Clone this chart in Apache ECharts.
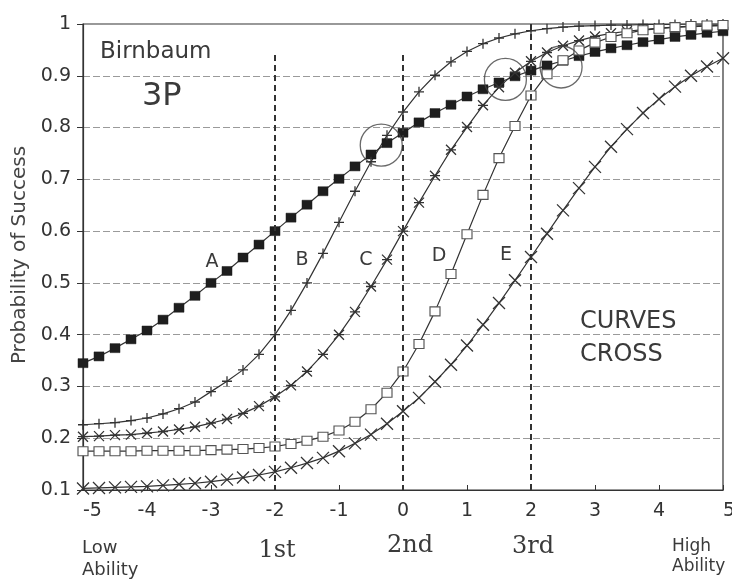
<!DOCTYPE html>
<html>
<head>
<meta charset="utf-8">
<script src="https://cdn.jsdelivr.net/npm/echarts@6/dist/echarts.min.js"></script>
<style>
  html, body { margin: 0; padding: 0; background: #ffffff; }
  #chart { width: 732px; height: 579px; }
</style>
</head>
<body>
<div id="chart"></div>
<script>
// Ability scale (theta) at which each item characteristic curve is sampled
const theta = [-5, -4.75, -4.5, -4.25, -4, -3.75, -3.5, -3.25, -3, -2.75,
  -2.5, -2.25, -2, -1.75, -1.5, -1.25, -1, -0.75, -0.5, -0.25,
  0, 0.25, 0.5, 0.75, 1, 1.25, 1.5, 1.75, 2, 2.25,
  2.5, 2.75, 3, 3.25, 3.5, 3.75, 4, 4.25, 4.5, 4.75, 5];

// Probability of success for items A to E (three-parameter model)
const itemA = [0.345, 0.358, 0.374, 0.391, 0.408, 0.429, 0.452, 0.475, 0.500, 0.523,
  0.549, 0.574, 0.600, 0.626, 0.651, 0.677, 0.701, 0.725, 0.748, 0.770,
  0.790, 0.810, 0.828, 0.844, 0.860, 0.874, 0.887, 0.899, 0.910, 0.920,
  0.929, 0.938, 0.946, 0.953, 0.959, 0.965, 0.970, 0.975, 0.979, 0.983, 0.986];
const itemB = [0.226, 0.228, 0.230, 0.234, 0.239, 0.247, 0.257, 0.270, 0.290, 0.310,
  0.332, 0.362, 0.400, 0.447, 0.500, 0.557, 0.617, 0.677, 0.734, 0.785,
  0.830, 0.869, 0.901, 0.927, 0.947, 0.962, 0.973, 0.981, 0.987, 0.991,
  0.994, 0.996, 0.997, 0.998, 0.998, 0.999, 0.999, 0.999, 1.000, 1.000, 1.000];
const itemC = [0.203, 0.204, 0.206, 0.207, 0.210, 0.213, 0.217, 0.222, 0.229, 0.237,
  0.248, 0.262, 0.280, 0.302, 0.329, 0.362, 0.400, 0.444, 0.493, 0.545,
  0.600, 0.655, 0.707, 0.757, 0.801, 0.843, 0.878, 0.906, 0.928, 0.945,
  0.958, 0.968, 0.976, 0.982, 0.986, 0.989, 0.992, 0.994, 0.995, 0.996, 0.997];
const itemD = [0.175, 0.175, 0.175, 0.175, 0.176, 0.176, 0.176, 0.176, 0.177, 0.178,
  0.179, 0.181, 0.184, 0.189, 0.195, 0.203, 0.215, 0.232, 0.256, 0.288,
  0.329, 0.382, 0.445, 0.517, 0.594, 0.670, 0.741, 0.803, 0.862, 0.903,
  0.930, 0.949, 0.964, 0.975, 0.982, 0.988, 0.991, 0.994, 0.996, 0.997, 0.998];
const itemE = [0.103, 0.104, 0.105, 0.106, 0.107, 0.109, 0.111, 0.113, 0.116, 0.120,
  0.124, 0.129, 0.135, 0.143, 0.152, 0.162, 0.175, 0.190, 0.207, 0.228,
  0.252, 0.278, 0.309, 0.342, 0.379, 0.419, 0.461, 0.505, 0.550, 0.595,
  0.640, 0.683, 0.724, 0.763, 0.797, 0.828, 0.855, 0.879, 0.900, 0.918, 0.934];

// Points where curves cross (circled)
const crossX = [-0.34, 1.6, 2.47];
const crossY = [0.766, 0.893, 0.917];

// Ability cut points (dashed verticals) and their upper ends
const cutX = [-2, 0, 2];
const cutTop = [0.94, 0.94, 1.0];
const cutNames = ['1st', '2nd', '3rd'];

const ink = '#333333';
const plusPath = 'path://M0,5L10,5M5,0L5,10';
const starPath = 'path://M0,0L10,10M10,0L0,10M0,5L10,5';
const crossPath = 'path://M0,0L10,10M10,0L0,10';

const pairs = vals => theta.map((t, i) => [t, vals[i]]);

const chart = echarts.init(document.getElementById('chart'), null, { renderer: 'canvas' });

function curve(name, vals, symbol, size, itemStyle) {
  return {
    name: name,
    type: 'line',
    data: pairs(vals),
    symbol: symbol,
    symbolSize: size,
    showAllSymbol: true,
    lineStyle: { color: ink, width: 1.2 },
    itemStyle: itemStyle,
    emphasis: { disabled: true },
    z: 3
  };
}

const sans = 'DejaVu Sans';
const serif = 'DejaVu Serif';

function txt(text, x, y, size, family, align) {
  return {
    type: 'text',
    x: x, y: y,
    style: {
      text: text,
      fontSize: size,
      fontFamily: family,
      fill: '#3a3a3a',
      align: align || 'left',
      verticalAlign: 'middle'
    },
    z: 10
  };
}

const option = {
  backgroundColor: '#ffffff',
  animation: false,
  grid: {
    left: 83, right: 9, top: 24, bottom: 89,
    outerBoundsMode: 'none',
    containLabel: false,
    show: true, borderColor: ink, borderWidth: 1.2
  },
  xAxis: {
    type: 'value',
    min: -5, max: 5, interval: 1,
    axisLine: { show: true, onZero: false, lineStyle: { color: ink, width: 1.2 } },
    axisTick: { show: true, inside: true, length: 5, lineStyle: { color: ink } },
    axisLabel: {
      color: ink, fontSize: 19, fontFamily: sans, margin: 12,
      alignMinLabel: 'left', alignMaxLabel: 'left'
    },
    splitLine: { show: false }
  },
  yAxis: {
    type: 'value',
    min: 0.1, max: 1, interval: 0.1,
    axisLine: { show: true, onZero: false, lineStyle: { color: ink, width: 1.2 } },
    axisTick: { show: true, length: 6, lineStyle: { color: ink } },
    axisLabel: {
      color: ink, fontSize: 19, fontFamily: sans, margin: 12,
      formatter: v => String(Math.round(v * 10) / 10)
    },
    splitLine: { show: true, lineStyle: { color: '#9a9a9a', width: 1, type: [7, 3] } }
  },
  series: [
    curve('A', itemA, 'rect', [10, 9], { color: '#1e1e1e', borderColor: '#1e1e1e', borderWidth: 0.5 }),
    curve('B', itemB, plusPath, 10, { color: 'none', borderColor: ink, borderWidth: 1.3 }),
    curve('C', itemC, starPath, 10, { color: 'none', borderColor: ink, borderWidth: 1.3 }),
    curve('D', itemD, 'rect', [10, 9], { color: '#ffffff', borderColor: '#555555', borderWidth: 1.1 }),
    curve('E', itemE, crossPath, 12, { color: 'none', borderColor: ink, borderWidth: 1.3 }),
    {
      name: 'cuts',
      type: 'line',
      data: [],
      markLine: {
        silent: true,
        symbol: ['none', 'none'],
        label: { show: false },
        lineStyle: { color: ink, width: 2, type: [6, 4] },
        data: cutX.map((x, i) => [{ coord: [x, cutTop[i]] }, { coord: [x, 0.1] }])
      },
      z: 2
    },
    {
      name: 'crossings',
      type: 'scatter',
      data: crossX.map((x, i) => [x, crossY[i]]),
      symbol: 'circle',
      symbolSize: 42,
      itemStyle: { color: 'none', borderColor: '#444444', borderWidth: 1.3 },
      emphasis: { disabled: true },
      z: 4
    }
  ],
  graphic: [
    txt('Birnbaum', 100, 52, 23, sans),
    txt('3P', 142, 97, 32, sans),
    txt('A', 212, 262, 19, sans, 'center'),
    txt('B', 302, 260, 19, sans, 'center'),
    txt('C', 366, 260, 19, sans, 'center'),
    txt('D', 439, 256, 19, sans, 'center'),
    txt('E', 506, 255, 19, sans, 'center'),
    txt('CURVES', 580, 322, 24, sans),
    txt('CROSS', 580, 355, 24, sans),
    txt('Low', 82, 548, 18, sans),
    txt('Ability', 82, 570, 18, sans),
    txt('High', 672, 547, 17, sans),
    txt('Ability', 672, 567, 17, sans),
    txt(cutNames[0], 277, 551, 24, serif, 'center'),
    txt(cutNames[1], 410, 546, 24, serif, 'center'),
    txt(cutNames[2], 533, 547, 24, serif, 'center'),
    {
      type: 'text',
      x: 20, y: 255,
      rotation: Math.PI / 2,
      style: {
        text: 'Probability of Success',
        fontSize: 20, fontFamily: sans, fill: '#444444',
        align: 'center', verticalAlign: 'middle'
      },
      z: 10
    }
  ]
};

chart.setOption(option);
</script>
</body>
</html>
